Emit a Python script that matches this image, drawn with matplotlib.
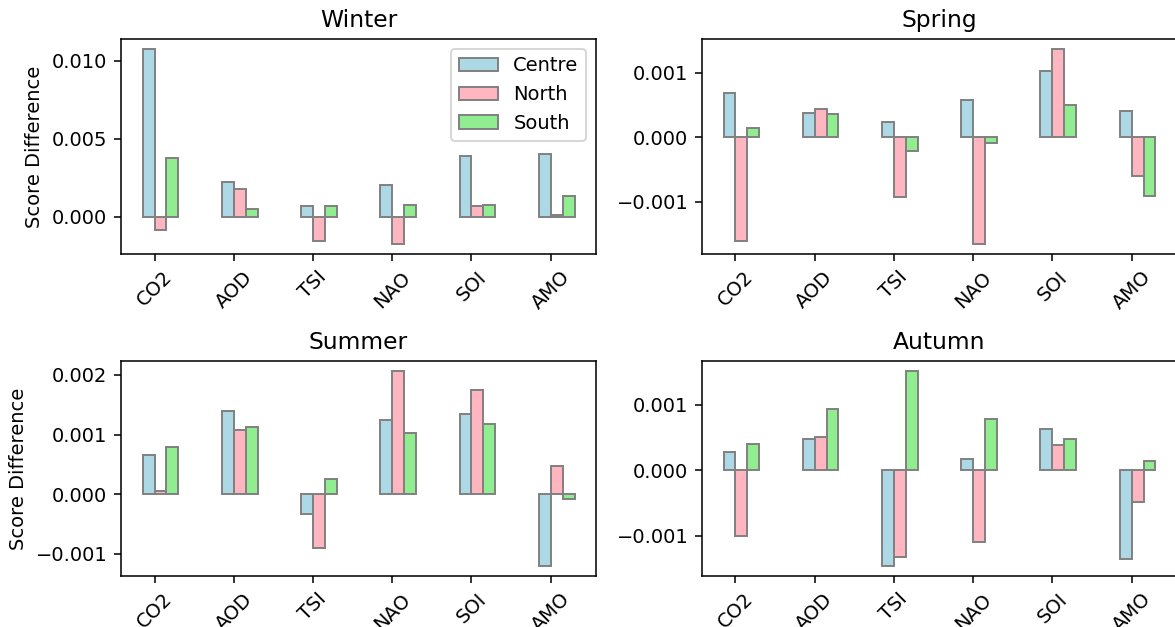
import numpy as np
import matplotlib
matplotlib.use("Agg")
import matplotlib.pyplot as plt

indices = ["CO2", "AOD", "TSI", "NAO", "SOI", "AMO"]
regions = ["Centre", "North", "South"]
colors = ["lightblue", "lightpink", "lightgreen"]

winter_centre = [0.01077, 0.00225, 0.00066, 0.00206, 0.00390, 0.00400]
winter_north = [-0.00086, 0.00176, -0.00156, -0.00176, 0.00066, 0.00010]
winter_south = [0.00379, 0.00049, 0.00066, 0.00077, 0.00077, 0.00135]

spring_centre = [0.000684, 0.000378, 0.000238, 0.000570, 0.001020, 0.000400]
spring_north = [-0.001617, 0.000430, -0.000927, -0.001663, 0.001373, -0.000596]
spring_south = [0.000145, 0.000357, -0.000212, -0.000093, 0.000497, -0.000907]

summer_centre = [0.000660, 0.001400, -0.000336, 0.001250, 0.001350, -0.001210]
summer_north = [0.000045, 0.001070, -0.000907, 0.002070, 0.001740, 0.000480]
summer_south = [0.000790, 0.001120, 0.000246, 0.001020, 0.001170, -0.000084]

autumn_centre = [0.000280, 0.000473, -0.001466, 0.000168, 0.000630, -0.001350]
autumn_north = [-0.001000, 0.000514, -0.001330, -0.001090, 0.000377, -0.000483]
autumn_south = [0.000400, 0.000930, 0.001517, 0.000774, 0.000473, 0.000137]

seasons = {
    "Winter": [winter_centre, winter_north, winter_south],
    "Spring": [spring_centre, spring_north, spring_south],
    "Summer": [summer_centre, summer_north, summer_south],
    "Autumn": [autumn_centre, autumn_north, autumn_south],
}

fig, axes = plt.subplots(2, 2, figsize=(1175 / 140, 627 / 140), dpi=140)
fig.subplots_adjust(left=0.103, right=1.0017, top=0.9378, bottom=0.0813,
                    wspace=0.2227, hspace=0.4977)

x = np.arange(len(indices))
width = 0.15

for ax, (season, vals) in zip(axes.flat, seasons.items()):
    for i, (reg, v) in enumerate(zip(regions, vals)):
        ax.bar(x + (i - 0.5) * width, v, width, color=colors[i],
               edgecolor="gray", label=reg)
    ax.set_xticks(x)
    ax.set_xticklabels(indices, rotation=45)
    ax.set_title(season)

axes[0, 0].set_ylabel("Score Difference")
axes[1, 0].set_ylabel("Score Difference")
axes[0, 0].legend(loc="upper right")

plt.savefig("out.png", dpi=140)
